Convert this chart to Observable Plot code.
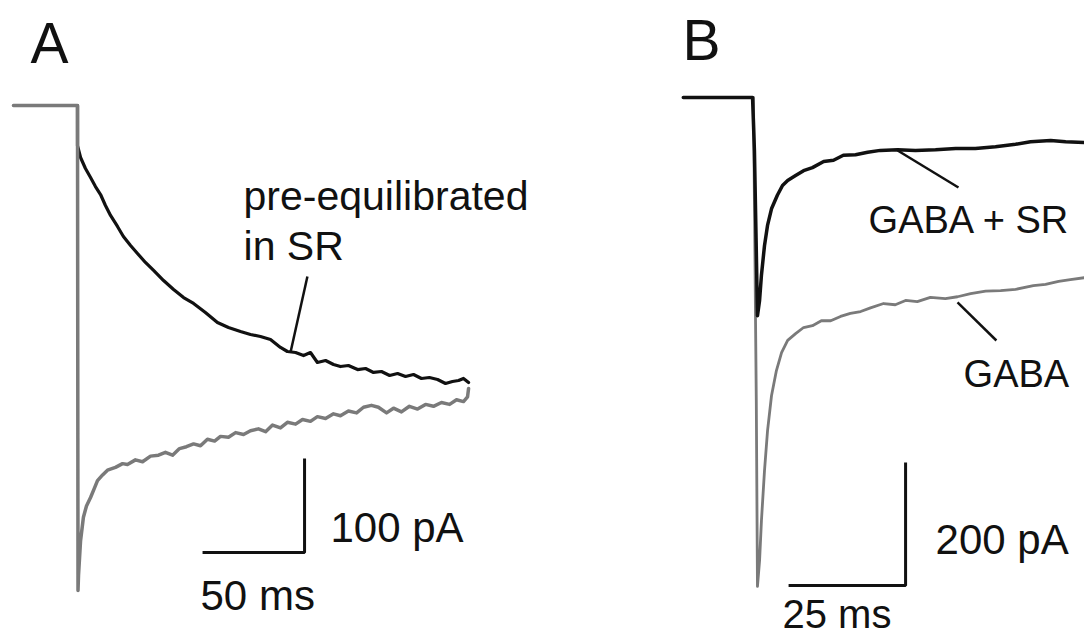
<!DOCTYPE html>
<html><head><meta charset="utf-8">
<script src="https://cdn.jsdelivr.net/npm/d3@7"></script>
<script src="https://cdn.jsdelivr.net/npm/@observablehq/plot@0.6"></script>
<style>
html,body{margin:0;padding:0;background:#fff;}
#fig{position:relative;width:1084px;height:642px;overflow:hidden;}
#fig svg{position:absolute;top:0;}
</style></head><body><div id="fig"></div>
<script>
// ---------- Panel A (time in ms, current in pA) ----------
const aSrTime = [0, 0, 1.5, 3.9, 6.4, 8.8, 11.3, 13.7, 16.2, 19.6, 22.5, 26.0, 29.4, 33.3, 37.3, 42.2, 47.1, 52.0, 56.9, 62.7, 68.6, 74.0, 79.9, 84.8, 89.7, 94.6, 99.5, 102.9, 106.9, 110.8, 114.2, 117.6, 121.6, 125.5, 128.9, 132.8, 137.3, 141.2, 145.1, 149.0, 153.0, 156.9, 160.8, 164.7, 168.6, 172.5, 176.5, 180.4, 183.8, 186.8, 189.2, 191.7];
const aSrCurrent = [0, -42.6, -55.3, -67, -76.6, -86.2, -94.7, -106.4, -117, -128.7, -139.4, -148.9, -157.4, -167, -175.5, -186.2, -195.7, -204.3, -210.6, -220.2, -230.9, -236.2, -240.4, -243.6, -245.7, -248.9, -257.4, -261.7, -262.8, -266, -262.8, -273.4, -271.3, -275.5, -277.7, -276.6, -280.9, -279.8, -284, -283, -287.2, -285.1, -288.3, -286.2, -290.4, -289.4, -291.5, -295.7, -293.6, -292.6, -290.4, -294.7];
const aGabaTime = [-31.4, 0, 0.25, 0.5, 1.5, 2.9, 4.4, 6.4, 8.3, 9.8, 12.3, 14.7, 18.6, 22.1, 24.5, 28.4, 31.9, 35.8, 39.7, 43.1, 46.6, 50.0, 53.4, 56.9, 60.3, 63.7, 67.2, 70.1, 74.0, 77.5, 81.4, 84.8, 88.7, 92.2, 95.6, 99.5, 102.9, 106.9, 110.3, 114.2, 117.6, 121.6, 125.5, 128.9, 132.8, 136.8, 140.2, 144.1, 147.5, 151.5, 154.9, 158.8, 162.7, 166.7, 170.6, 174.5, 178.4, 182.4, 185.8, 189.2, 191.2, 191.7];
const aGabaCurrent = [0, 0, -516, -500, -463, -438, -426, -417, -407, -399, -393, -388, -385, -381, -382, -377, -379, -373, -372, -369, -372, -365, -363, -360, -362, -355, -357, -352, -353, -348, -350, -346, -344, -347, -340, -343, -337, -339, -334, -336, -331, -333, -328, -330, -325, -327, -321, -319, -321, -327, -322, -326, -320, -323, -318, -320, -316, -318, -313, -315, -310, -301];

// ---------- Panel B ----------
const bSrTime = [-15.0, -0.2, 0.2, 0.6, 0.85, 1.3, 1.7, 2.35, 3.0, 3.85, 5.1, 6.2, 7.3, 9.0, 10.7, 12.6, 15.0, 17.1, 19.2, 21.8, 24.4, 27.1, 30.8, 34.6, 38.9, 43.2, 47.4, 51.7, 56.0, 59.2, 63.5, 66.7, 70.7];
const bSrCurrent = [0, 0, -86, -249, -355, -330, -289, -241, -208, -181, -159, -143, -135, -127, -119, -114, -104, -102, -94, -93, -89, -86, -85, -86, -85, -83, -83, -80, -76, -72, -70, -72, -73];
const bGabaTime = [0, 0.2, 0.6, 0.85, 1.3, 1.7, 2.35, 3.0, 3.85, 4.9, 6.0, 7.3, 9.0, 10.7, 12.6, 14.5, 16.5, 18.6, 20.7, 22.9, 25.0, 27.8, 30.3, 32.5, 35.0, 37.8, 41.0, 43.6, 46.4, 49.6, 52.8, 56.0, 59.8, 62.4, 65.2, 67.7, 70.7];
const bGabaCurrent = [0, -168, -493, -795, -753, -688, -607, -542, -485, -444, -415, -395, -384, -374, -371, -363, -363, -356, -351, -348, -342, -335, -337, -330, -332, -325, -327, -324, -319, -315, -314, -312, -306, -304, -299, -296, -293];

// ---------- Scale bars & labels (data units) ----------
const scaleA = {ms: 50, pA: 100, t: 61.3, i: -475.5};
const scaleB = {ms: 25, pA: 200, t: 7.5, i: -793.5};
const labelsA = [
  {text: "pre-equilibrated\nin SR", t: 81.4, i: -73.4, size: 41},
  {text: "100 pA", t: 124.0, i: -425.5, size: 42},
  {text: "50 ms", t: 60.3, i: -497.9, size: 42}
];
const labelsB = [
  {text: "GABA + SR", t: 24.6, i: -167.5, size: 38},
  {text: "GABA", t: 44.9, i: -417.9, size: 38},
  {text: "200 pA", t: 38.9, i: -682.9, size: 42},
  {text: "25 ms", t: 6.2, i: -806, size: 40}
];
const pointersA = [{t1: 112.7, i1: -181.9, t2: 104.4, i2: -262.8}];
const pointersB = [
  {t1: 30.8, i1: -86.2, t2: 43.8, i2: -146.3},
  {t1: 43.6, i1: -333.3, t2: 51.9, i2: -395.1}
];

const FONT = '"Liberation Sans", Arial, Helvetica, sans-serif';
const INK = "#111";
const GREY = "#7a7a7a";

function scaleBar(s) {
  return Plot.line([0, 1, 2], {
    x: [s.t, s.t + s.ms, s.t + s.ms],
    y: [s.i, s.i, s.i + s.pA],
    stroke: INK, strokeWidth: 3, strokeLinejoin: "miter", strokeLinecap: "butt"
  });
}
function labels(arr) {
  return arr.map(d => Plot.text([d], {
    x: "t", y: "i", text: "text", fontSize: d.size, textAnchor: "start",
    lineAnchor: "top", lineHeight: 1.22, fill: INK
  }));
}
function pointers(arr) {
  return Plot.link(arr, {x1: "t1", y1: "i1", x2: "t2", y2: "i2", stroke: INK, strokeWidth: 2.5});
}
function trace(t, c, color, w) {
  return Plot.line(c, {x: t, y: c, stroke: color, strokeWidth: w, strokeLinejoin: "round", curve: "linear"});
}
function panel(width, xDomain, yDomain, letter, letterDx, letterDy, marks) {
  return Plot.plot({
    width, height: 642, margin: 0,
    x: {domain: xDomain, axis: null},
    y: {domain: yDomain, axis: null},
    style: {fontFamily: FONT, background: "transparent", overflow: "visible"},
    marks: [
      ...marks,
      Plot.text([letter], {frameAnchor: "top-left", dx: letterDx, dy: letterDy, fontSize: 57, fill: INK})
    ]
  });
}

const plotA = panel(540, [-37.745, 226.96], [-571.28, 111.70], "A", 30, 22, [
  trace(aSrTime, aSrCurrent, INK, 3.2),
  trace(aGabaTime, aGabaCurrent, GREY, 3.5),
  pointers(pointersA),
  scaleBar(scaleA),
  ...labels(labelsA)
]);
const plotB = panel(544, [-45.51, 70.73], [-886.18, 157.72], "B", 142, 19, [
  trace(bGabaTime, bGabaCurrent, GREY, 2.8),
  trace(bSrTime, bSrCurrent, INK, 3.5),
  pointers(pointersB),
  scaleBar(scaleB),
  ...labels(labelsB)
]);
plotA.style.left = "0px";
plotB.style.left = "540px";
const fig = document.getElementById("fig");
fig.appendChild(plotA);
fig.appendChild(plotB);
</script></body></html>
